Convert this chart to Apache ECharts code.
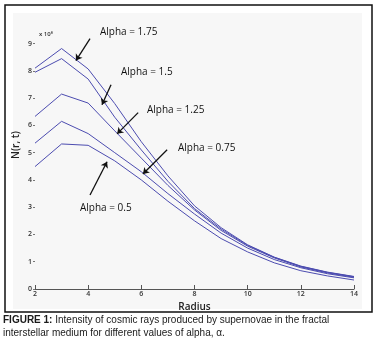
<!DOCTYPE html>
<html>
<head>
<meta charset="utf-8">
<script src="https://cdn.jsdelivr.net/npm/echarts@6/dist/echarts.min.js"></script>
<style>
  html, body { margin: 0; padding: 0; background: #ffffff; }
  #chart { width: 377px; height: 348px; }
</style>
</head>
<body>
<div id="chart"></div>
<script>
// radius values (x) and N(r, t) curves, in units of 10^8
const radius = [2, 3, 4, 5, 6, 7, 8, 9, 10, 11, 12, 13, 14];
const alpha175 = [8.1, 8.82, 8.07, 6.8, 5.4, 4.15, 3.05, 2.25, 1.62, 1.17, 0.84, 0.62, 0.46];
const alpha150 = [7.95, 8.45, 7.7, 6.3, 5.1, 3.95, 2.95, 2.2, 1.6, 1.16, 0.83, 0.61, 0.45];
const alpha125 = [6.33, 7.15, 6.82, 5.8, 4.8, 3.8, 2.9, 2.15, 1.57, 1.14, 0.81, 0.59, 0.43];
const alpha075 = [5.35, 6.15, 5.7, 5.0, 4.3, 3.5, 2.75, 2.05, 1.5, 1.08, 0.78, 0.56, 0.41];
const alpha050 = [4.49, 5.32, 5.27, 4.7, 4.0, 3.22, 2.5, 1.85, 1.36, 0.96, 0.67, 0.48, 0.33];
const xTicks = [2, 4, 6, 8, 10, 12, 14];
const yTicks = [0, 1, 2, 3, 4, 5, 6, 7, 8, 9];

const lineColor = '#4c4cb0';

function pairs(vals) {
    return radius.map((r, i) => [r, vals[i]]);
}

// arrows pointing at the curves, in data coordinates [start, tip]
const arrows = [
    [[4.07, 9.18], [3.54, 8.38]],
    [[4.86, 7.49], [4.52, 6.76]],
    [[5.88, 6.47], [5.09, 5.69]],
    [[6.97, 5.11], [6.06, 4.22]],
    [[4.07, 3.45], [4.71, 4.67]]
];

const chart = echarts.init(document.getElementById('chart'), null, { renderer: 'canvas' });

const curve = (name, vals) => ({
    name: name,
    type: 'line',
    data: pairs(vals),
    showSymbol: false,
    clip: false,
    lineStyle: { color: lineColor, width: 1 },
    itemStyle: { color: lineColor },
    emphasis: { disabled: true },
    z: 3
});

chart.setOption({
    backgroundColor: '#ffffff',
    animation: false,
    grid: { left: 35, right: 23, top: 30, bottom: 59 },
    xAxis: {
        type: 'value',
        min: 2,
        max: 14,
        interval: 2,
        name: 'Radius',
        nameLocation: 'middle',
        nameGap: 10,
        nameTextStyle: { fontFamily: 'Open Sans', fontSize: 10, fontWeight: 600, color: '#222' },
        axisLine: { lineStyle: { color: '#555', width: 1 } },
        axisTick: { inside: true, length: 4, lineStyle: { color: '#555' } },
        axisLabel: {
            margin: 1,
            fontFamily: 'Open Sans', fontSize: 7, fontWeight: 600, color: '#333',
            formatter: v => xTicks.includes(v) ? String(v) : ''
        },
        splitLine: { show: false }
    },
    yAxis: {
        type: 'value',
        min: 0,
        max: 9.5,
        axisLine: { show: false },
        axisTick: { show: true, length: 2, customValues: yTicks, lineStyle: { color: '#777' } },
        axisLabel: {
            margin: 3,
            customValues: yTicks,
            fontFamily: 'Open Sans', fontSize: 7, fontWeight: 600, color: '#333'
        },
        splitLine: { show: false }
    },
    series: [
        curve('Alpha = 1.75', alpha175),
        curve('Alpha = 1.5', alpha150),
        curve('Alpha = 1.25', alpha125),
        curve('Alpha = 0.75', alpha075),
        curve('Alpha = 0.5', alpha050),
        {
            type: 'line',
            data: [],
            clip: false,
            markLine: {
                silent: true,
                symbol: ['none', 'arrow'],
                symbolSize: 6,
                label: { show: false },
                lineStyle: { color: '#111', width: 1.3, type: 'solid' },
                emphasis: { disabled: true },
                data: arrows.map(a => [{ coord: a[0] }, { coord: a[1] }])
            }
        }
    ],
    graphic: [
        { type: 'rect', shape: { x: 5, y: 5, width: 367, height: 307 },
          style: { fill: '#ffffff', stroke: '#111', lineWidth: 1.5 }, z: -20 },
        { type: 'rect', shape: { x: 13, y: 13, width: 349, height: 296 },
          style: { fill: '#f7f7f7' }, z: -19 },
        { type: 'text', x: 39, y: 31, z: 5,
          style: { text: 'x 10⁸', font: '600 6px "Open Sans"', fill: '#333' } },
        { type: 'text', x: 16, y: 145, rotation: Math.PI / 2, z: 5,
          style: { text: 'N(r, t)', font: '600 10px "Open Sans"', fill: '#222',
                   align: 'center', verticalAlign: 'middle' } },
        { type: 'text', x: 100, y: 27, z: 5,
          style: { text: 'Alpha = 1.75', font: '10px "Open Sans"', fill: '#111' } },
        { type: 'text', x: 121, y: 67, z: 5,
          style: { text: 'Alpha = 1.5', font: '10px "Open Sans"', fill: '#111' } },
        { type: 'text', x: 147, y: 105, z: 5,
          style: { text: 'Alpha = 1.25', font: '10px "Open Sans"', fill: '#111' } },
        { type: 'text', x: 178, y: 143, z: 5,
          style: { text: 'Alpha = 0.75', font: '10px "Open Sans"', fill: '#111' } },
        { type: 'text', x: 80, y: 203, z: 5,
          style: { text: 'Alpha = 0.5', font: '10px "Open Sans"', fill: '#111' } },
        { type: 'text', x: 3, y: 314, z: 5,
          style: {
              text: '{b|FIGURE 1:} Intensity of cosmic rays produced by supernovae in the fractal\ninterstellar medium for different values of alpha, α.',
              font: '10px "Liberation Sans"', fill: '#1a1a1a', lineHeight: 13,
              rich: { b: { font: 'bold 10px "Liberation Sans"', fill: '#1a1a1a' } }
          } }
    ]
});
</script>
</body>
</html>
